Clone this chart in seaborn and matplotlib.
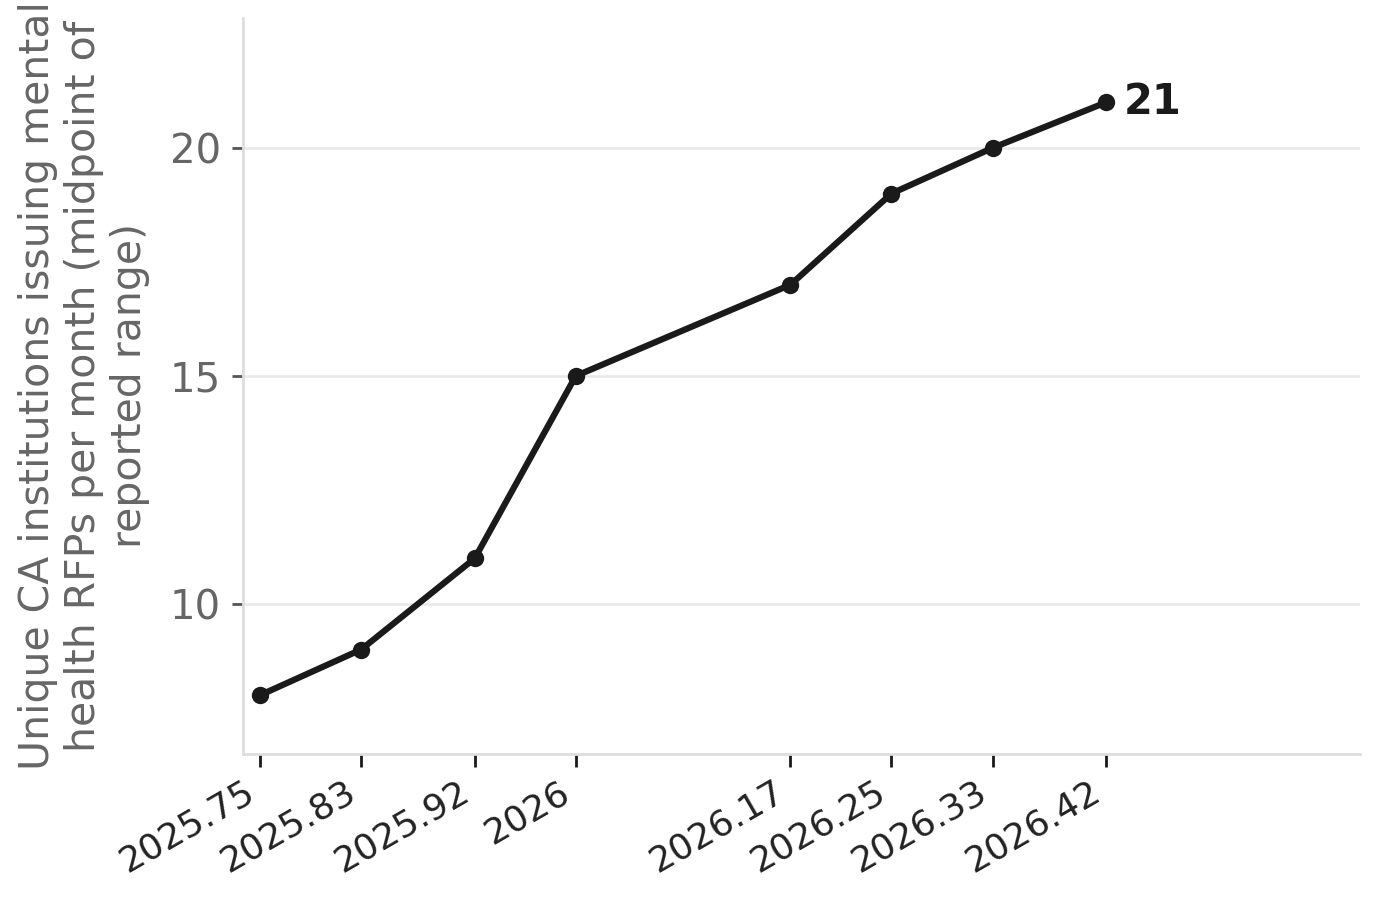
import matplotlib
matplotlib.use("Agg")
import matplotlib.pyplot as plt
import seaborn as sns
import pandas as pd

# ----------------------------
# Data
# ----------------------------
months = [2025.75, 2025.83, 2025.92, 2026.0, 2026.17, 2026.25, 2026.33, 2026.42]
institutions = [8, 9, 11, 15, 17, 19, 20, 21]
tick_labels = ["2025.75", "2025.83", "2025.92", "2026",
               "2026.17", "2026.25", "2026.33", "2026.42"]

ylabel = ("Unique CA institutions issuing mental\n"
          "health RFPs per month (midpoint of\n"
          "reported range)")

df = pd.DataFrame({"month": months, "count": institutions})

# ----------------------------
# Figure
# ----------------------------
sns.set_theme(style="white")
plt.rcParams['font.family'] = ['DejaVu Sans']

fig = plt.figure(figsize=(13.8, 8.99), dpi=100)
ax = fig.add_axes([0.1761, 0.1613, 0.8094, 0.8187])

sns.lineplot(data=df, x="month", y="count", ax=ax,
             color="#1a1a1a", linewidth=4.5,
             marker="o", markersize=12.5, markeredgewidth=0)

# label on last point
ax.annotate(str(institutions[-1]), (months[-1], institutions[-1]),
            xytext=(13, 0), textcoords="offset points",
            ha="left", va="center", fontsize=30, fontweight="bold",
            color="#1a1a1a")

ax.set_xlim(2025.7365, 2026.621)
ax.set_ylim(6.71, 22.85)

ax.set_xticks(months)
ax.set_xticklabels(tick_labels, rotation=30, ha="right",
                   fontsize=26, color="#222222")
ax.set_yticks([10, 15, 20])
ax.set_yticklabels(["10", "15", "20"], fontsize=29, color="#666666")

ax.tick_params(axis="x", bottom=True, length=9, width=2, color="#1a1a1a", pad=6)
ax.tick_params(axis="y", left=True, length=8, width=2, color="#555555", pad=8)

ax.set_xlabel("")
ax.set_ylabel(ylabel, fontsize=29.5, color="#666666", labelpad=14)

ax.yaxis.grid(True, color="#e8e8e8", linewidth=1.8)
ax.xaxis.grid(False)
ax.set_axisbelow(True)

for side in ["top", "right"]:
    ax.spines[side].set_visible(False)
for side in ["left", "bottom"]:
    ax.spines[side].set_color("#dddddd")
    ax.spines[side].set_linewidth(2)

fig.savefig("out.png", dpi=100)
